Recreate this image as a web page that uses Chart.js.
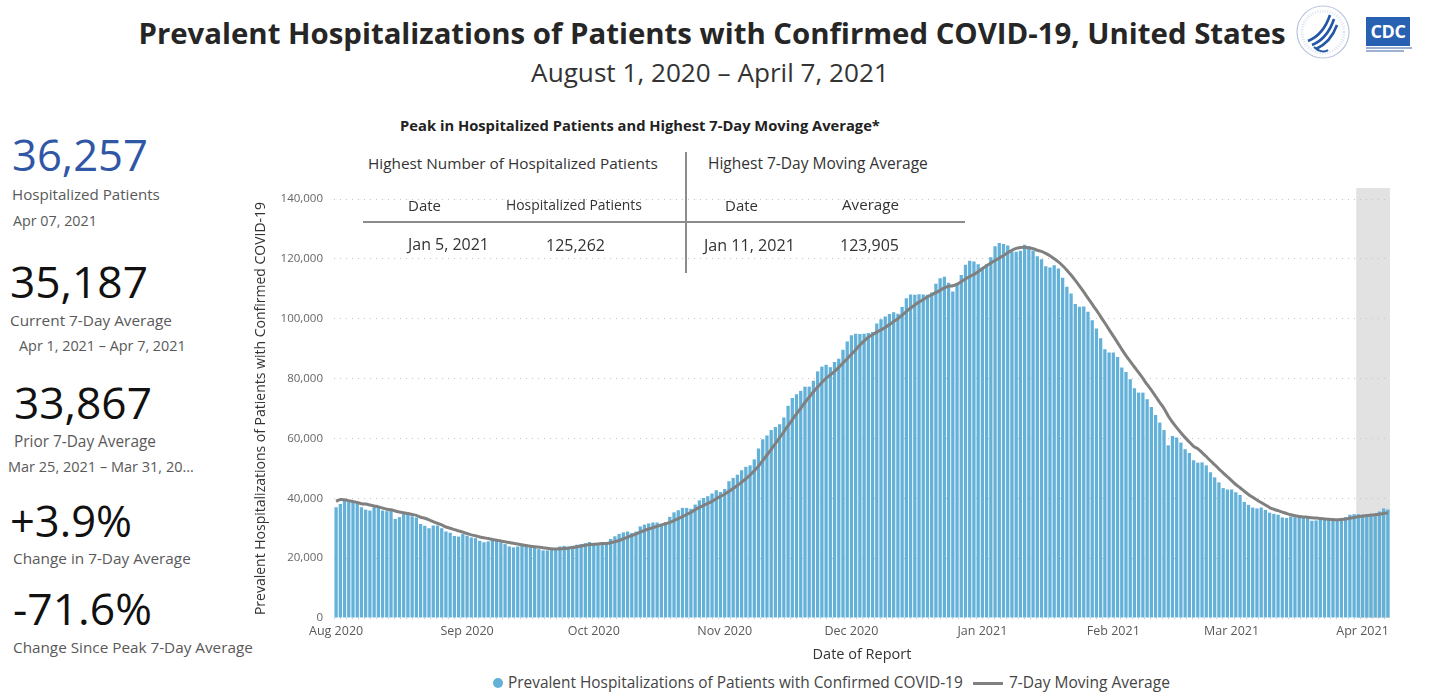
<!DOCTYPE html>
<html>
<head>
<meta charset="utf-8">
<script src="https://cdn.jsdelivr.net/npm/chart.js@4.4.1/dist/chart.umd.min.js"></script>
<style>
  body { margin: 0; width: 1434px; height: 697px; background: #fff; position: relative; overflow: hidden;
         font-family: 'Open Sans', sans-serif; }
  .t { position: absolute; white-space: nowrap; line-height: 1; transform: translateY(-50%); }
  .c { transform: translate(-50%, -50%); }
  .big { font-size: 44px; color: #111; }
  .lbl { font-size: 15px; color: #595959; }
  .sub { font-size: 13px; color: #595959; }
  .tb { font-size: 14px; color: #333; }
  #chart { position: absolute; left: 240px; top: 180px; }
  .rule { position: absolute; background: #8c8c8c; }
</style>
</head>
<body>

<div class="t c" style="left:712px;top:34px;font-weight:700;font-size:26px;color:#262626" data-w="1148">Prevalent Hospitalizations of Patients with Confirmed COVID-19, United States</div>
<div class="t c" style="left:710px;top:72px;font-size:21px;color:#333" data-w="358">August 1, 2020 – April 7, 2021</div>

<!-- logos -->
<svg style="position:absolute;left:1294px;top:3px" width="58" height="58" viewBox="0 0 58 58">
  <circle cx="29" cy="29" r="26" fill="none" stroke="#b9c6e0" stroke-width="1.2"/>
  <circle cx="29" cy="29" r="21" fill="none" stroke="#dde4f1" stroke-width="3" stroke-dasharray="1 1.5"/>
  <path d="M14 38 C24 34 32 24 36 12" fill="none" stroke="#2457a6" stroke-width="2.6"/>
  <path d="M18 42 C28 38 36 28 40 16" fill="none" stroke="#2457a6" stroke-width="2.6"/>
  <path d="M22 46 C31 42 39 33 43 22" fill="none" stroke="#2457a6" stroke-width="2.6"/>
  <path d="M20 44 C24 48 30 50 34 47" fill="none" stroke="#2457a6" stroke-width="2"/>
</svg>
<div style="position:absolute;left:1366px;top:17px;width:44px;height:29px;background:#2861b1;color:#fff;font:700 18px 'Open Sans',sans-serif;text-align:center;line-height:28px;letter-spacing:-0.5px">CDC</div>
<div style="position:absolute;left:1366px;top:47px;width:46px;height:1.5px;background:#9fb1d3"></div>
<div style="position:absolute;left:1366px;top:50px;width:38px;height:1.5px;background:#9fb1d3"></div>

<!-- left summary panel -->
<div class="t big" style="left:12px;top:155px;color:#2f57a5" data-w="136">36,257</div>
<div class="t lbl" style="left:12px;top:195px" data-w="148">Hospitalized Patients</div>
<div class="t sub" style="left:13px;top:221px" data-w="84">Apr 07, 2021</div>

<div class="t big" style="left:10px;top:281px" data-w="138">35,187</div>
<div class="t lbl" style="left:10px;top:321px" data-w="162">Current 7-Day Average</div>
<div class="t sub" style="left:19px;top:346px" data-w="167">Apr 1, 2021 – Apr 7, 2021</div>

<div class="t big" style="left:14px;top:402px" data-w="138">33,867</div>
<div class="t lbl" style="left:14px;top:442px" data-w="142">Prior 7-Day Average</div>
<div class="t sub" style="left:8px;top:466px" data-w="186">Mar 25, 2021 – Mar 31, 20…</div>

<div class="t big" style="left:10px;top:521px" data-w="122">+3.9%</div>
<div class="t lbl" style="left:13px;top:559px" data-w="178">Change in 7-Day Average</div>

<div class="t big" style="left:13px;top:608px" data-w="139">-71.6%</div>
<div class="t lbl" style="left:13px;top:648px" data-w="240">Change Since Peak 7-Day Average</div>

<canvas id="chart" width="1170" height="490"></canvas>

<!-- peak table over the plot -->
<div class="t c" style="left:640px;top:125px;font-weight:700;font-size:13px;color:#222" data-w="480">Peak in Hospitalized Patients and Highest 7-Day Moving Average*</div>
<div class="t tb" style="left:368px;top:164px" data-w="290">Highest Number of Hospitalized Patients</div>
<div class="t tb" style="left:708px;top:164px" data-w="220">Highest 7-Day Moving Average</div>
<div class="t tb" style="left:408px;top:205px" data-w="33">Date</div>
<div class="t tb" style="left:506px;top:205px" data-w="136">Hospitalized Patients</div>
<div class="t tb" style="left:725px;top:205px" data-w="33">Date</div>
<div class="t tb" style="left:842px;top:205px" data-w="57">Average</div>
<div class="t tb" id="peakDate" style="left:408px;top:245px" data-w="81"></div>
<div class="t tb" id="peakValue" style="left:546px;top:245px" data-w="59"></div>
<div class="t tb" id="maDate" style="left:704px;top:245px" data-w="91"></div>
<div class="t tb" id="maValue" style="left:840px;top:245px" data-w="59"></div>
<div class="rule" style="left:685px;top:152px;width:2px;height:121px"></div>
<div class="rule" style="left:363px;top:221px;width:602px;height:2px"></div>

<!-- legend -->
<div style="position:absolute;left:493px;top:678px;width:10px;height:10px;border-radius:50%;background:#63b1d8"></div>
<div class="t" style="left:508px;top:683px;font-size:14px;color:#444" data-w="455">Prevalent Hospitalizations of Patients with Confirmed COVID-19</div>
<div style="position:absolute;left:973px;top:682px;width:30px;height:2.5px;background:#808080"></div>
<div class="t" style="left:1009px;top:683px;font-size:14px;color:#444" data-w="161">7-Day Moving Average</div>

<script>
// daily prevalent hospitalizations, Aug 1 2020 .. Apr 7 2021
const hospitalized = [
  // Aug
  37000, 38100, 39200, 38900, 38700, 38400, 37000, 36200, 35900, 37000, 36800, 35900, 35700, 35900, 33100, 33700,
  35100, 34800, 34000, 33600, 31400, 30800, 30000, 30900, 30900, 30000, 28900, 28500, 27400, 27200, 28100,
  // Sep
  27500, 26900, 26700, 25800, 25300, 25600, 25800, 25800, 25300, 24700, 23900, 23600, 23900, 24100, 23900,
  23600, 23400, 23000, 22600, 22600, 22800, 23400, 23900, 24100, 23900, 24100, 24500, 24700, 25000, 25400,
  // Oct
  24700, 24700, 25000, 25000, 26400, 27300, 28100, 28600, 28900, 28400, 28900, 30600, 31200, 31600, 31900, 31900,
  31400, 32000, 33800, 35300, 36000, 36800, 36800, 36500, 37900, 39300, 40100, 40700, 41600, 42700, 42100,
  // Nov
  43100, 45700, 46800, 47900, 49400, 50500, 51000, 53000, 56600, 59700, 61000, 62800, 63800, 64700, 67000,
  70900, 73500, 74800, 75900, 77300, 77300, 79300, 82400, 84000, 84600, 83800, 85500, 86600, 89600, 92400,
  // Dec
  94500, 95000, 94900, 95000, 95200, 95600, 98400, 99800, 100700, 101600, 102200, 101700, 103900, 106800, 108100, 108000,
  108200, 108100, 108000, 108800, 111700, 113500, 114000, 112000, 109100, 111600, 114600, 118000, 119400, 119100, 118200,
  // Jan
  116600, 118200, 120500, 124200, 125262, 125000, 124500, 122500, 122400, 122700, 124700, 124200, 122800, 120900, 119900, 117500,
  117100, 117900, 116800, 113700, 110700, 108400, 104900, 104000, 104100, 102300, 99500, 96700, 93500, 89800, 88700,
  // Feb
  88700, 87200, 83700, 82200, 79800, 76800, 75300, 75300, 73100, 70500, 67800, 65300, 62800, 57700,
  60800, 60300, 58600, 56400, 55100, 52700, 51900, 52000, 51000, 48700, 47000, 45300, 43400, 42900,
  // Mar
  42900, 42000, 41100, 38800, 37800, 36900, 36600, 36900, 36100, 35200, 34800, 34500, 33600, 33400, 33900, 33700,
  33700, 33600, 33700, 32500, 32600, 32800, 32800, 32800, 33000, 33000, 33400, 33700, 34500, 34700, 34700,
  // Apr
  34500, 34300, 34400, 34600, 35600, 36600, 36257
];

const movingAverage = [
  // Aug
  39000, 39600, 39500, 39200, 38900, 38600, 38190, 38070, 37760, 37440, 37140, 36740, 36360, 36200, 35760, 35440,
  35170, 34890, 34610, 34310, 33670, 33340, 32810, 32210, 31660, 31090, 30410, 30000, 29510, 29110, 28710,
  // Sep
  28230, 27790, 27470, 27090, 26790, 26560, 26230, 25990, 25760, 25470, 25200, 24960, 24710, 24470, 24200,
  23960, 23770, 23640, 23500, 23310, 23130, 23060, 23100, 23200, 23330, 23540, 23810, 24090, 24310, 24530,
  // Oct
  24610, 24730, 24860, 24930, 25170, 25500, 25890, 26440, 27040, 27530, 28090, 28690, 29240, 29740, 30210, 30640,
  31070, 31510, 31970, 32560, 33190, 33890, 34590, 35310, 36160, 36940, 37630, 38300, 38990, 39830, 40630,
  // Nov
  41370, 42290, 43240, 44270, 45390, 46500, 47770, 49190, 50740, 52590, 54460, 56370, 58270, 60230, 62230,
  64270, 66240, 68210, 70090, 72010, 73810, 75570, 77210, 78710, 80110, 81240, 82410, 83740, 85210, 86640,
  // Dec
  88140, 89630, 91210, 92570, 93800, 94660, 95510, 96270, 97090, 98040, 99070, 100000, 101190, 102390, 103570, 104610,
  105560, 106400, 107300, 108000, 108700, 109470, 110330, 110870, 111010, 111530, 112360, 113260, 114100, 114830, 115710,
  // Jan
  116790, 117730, 118570, 119460, 120290, 121140, 122040, 122880, 123480, 123790, 123905, 123710, 123400, 122890, 122510, 121810,
  121010, 120040, 118990, 117690, 116230, 114590, 112790, 110910, 108940, 106870, 104840, 102840, 100710, 98560, 96370,
  // Feb
  94170, 92010, 89760, 87690, 85730, 83870, 81960, 80040, 78030, 76140, 74090, 72010, 70010, 67500,
  65430, 63600, 61900, 60270, 58810, 57370, 56540, 55290, 53960, 52540, 51200, 49800, 48470, 47190,
  // Mar
  45890, 44600, 43510, 42340, 41270, 40340, 39440, 38590, 37740, 36900, 36330, 35860, 35390, 34930, 34500, 34160,
  33940, 33770, 33660, 33500, 33390, 33230, 33100, 32970, 32890, 32790, 32910, 33070, 33310, 33590, 33867,
  // Apr
  34070, 34260, 34400, 34530, 34690, 34960, 35187
];

const monthTicks = ['Aug 2020', 'Sep 2020', 'Oct 2020', 'Nov 2020', 'Dec 2020', 'Jan 2021', 'Feb 2021', 'Mar 2021', 'Apr 2021'];
const yTicks = [0, 20000, 40000, 60000, 80000, 100000, 120000, 140000];
const peak = { date: 'Jan 5, 2021', value: 125262 };
const peakAverage = { date: 'Jan 11, 2021', value: 123905 };
const shadeFrom = '2021-03-31';   // recent days, still being reported

const FONT = "'Open Sans', sans-serif";
const startDay = Date.UTC(2020, 7, 1);
const dayLabels = hospitalized.map((_, i) => new Date(startDay + i * 86400000).toISOString().slice(0, 10));

document.getElementById('peakDate').textContent = peak.date;
document.getElementById('peakValue').textContent = peak.value.toLocaleString('en-US');
document.getElementById('maDate').textContent = peakAverage.date;
document.getElementById('maValue').textContent = peakAverage.value.toLocaleString('en-US');

// squeeze each text to the width it has in the original
document.querySelectorAll('[data-w]').forEach(el => {
  const fs = parseFloat(getComputedStyle(el).fontSize);
  const w = el.getBoundingClientRect().width;
  el.style.fontSize = (fs * (+el.dataset.w) / w) + 'px';
});

const shade = {
  id: 'shade',
  beforeDraw(chart) {
    const { ctx, chartArea, scales: { x } } = chart;
    const i = dayLabels.indexOf(shadeFrom);
    const step = x.getPixelForValue(1) - x.getPixelForValue(0);
    const left = x.getPixelForValue(i) - step / 2;
    ctx.save();
    ctx.fillStyle = '#e2e2e2';
    ctx.fillRect(left, chartArea.top - 11, chartArea.right - left, chartArea.bottom - chartArea.top + 11);
    ctx.restore();
  }
};

Chart.defaults.font.family = FONT;

new Chart(document.getElementById('chart'), {
  type: 'bar',
  data: {
    labels: dayLabels,
    datasets: [
      {
        type: 'line',
        label: '7-Day Moving Average',
        data: movingAverage,
        borderColor: '#808080',
        borderWidth: 3,
        pointRadius: 0,
        tension: 0.3,
        order: 0
      },
      {
        type: 'bar',
        label: 'Prevalent Hospitalizations of Patients with Confirmed COVID-19',
        data: hospitalized,
        backgroundColor: '#63b1d8',
        barPercentage: 0.78,
        categoryPercentage: 1,
        order: 1
      }
    ]
  },
  options: {
    responsive: false,
    animation: false,
    layout: { padding: { top: 19, right: 20, left: 0, bottom: 0 } },
    plugins: { legend: { display: false }, tooltip: { enabled: false } },
    scales: {
      x: {
        grid: { display: false, drawTicks: false },
        border: { display: false },
        ticks: {
          autoSkip: false,
          maxRotation: 0,
          padding: 6,
          color: '#595959',
          font: { size: 12.5 },
          callback: function (value, index) {
            const d = dayLabels[index];
            if (!d.endsWith('-01')) return null;
            const m = (+d.slice(0, 4) - 2020) * 12 + (+d.slice(5, 7)) - 8;
            return monthTicks[m];
          }
        },
        title: { display: true, text: 'Date of Report', color: '#333', font: { size: 14.5 }, padding: { top: 0, bottom: 6 } },
        afterFit: s => { s.height = 52; }
      },
      y: {
        min: 0,
        max: 140000,
        afterBuildTicks: s => { s.ticks = yTicks.map(v => ({ value: v })); },
        ticks: { padding: 11, color: '#666', font: { size: 11.5 }, callback: v => v.toLocaleString('en-US') },
        grid: { color: '#c4c4c4', drawTicks: false },
        border: { display: false, dash: [1, 5] },
        title: {
          display: true,
          text: 'Prevalent Hospitalizations of Patients with Confirmed COVID-19',
          color: '#333',
          font: { size: 14 },
          padding: { top: 13, bottom: 0 }
        },
        afterFit: s => { s.width = 94; }
      }
    }
  },
  plugins: [shade]
});
</script>
</body>
</html>
